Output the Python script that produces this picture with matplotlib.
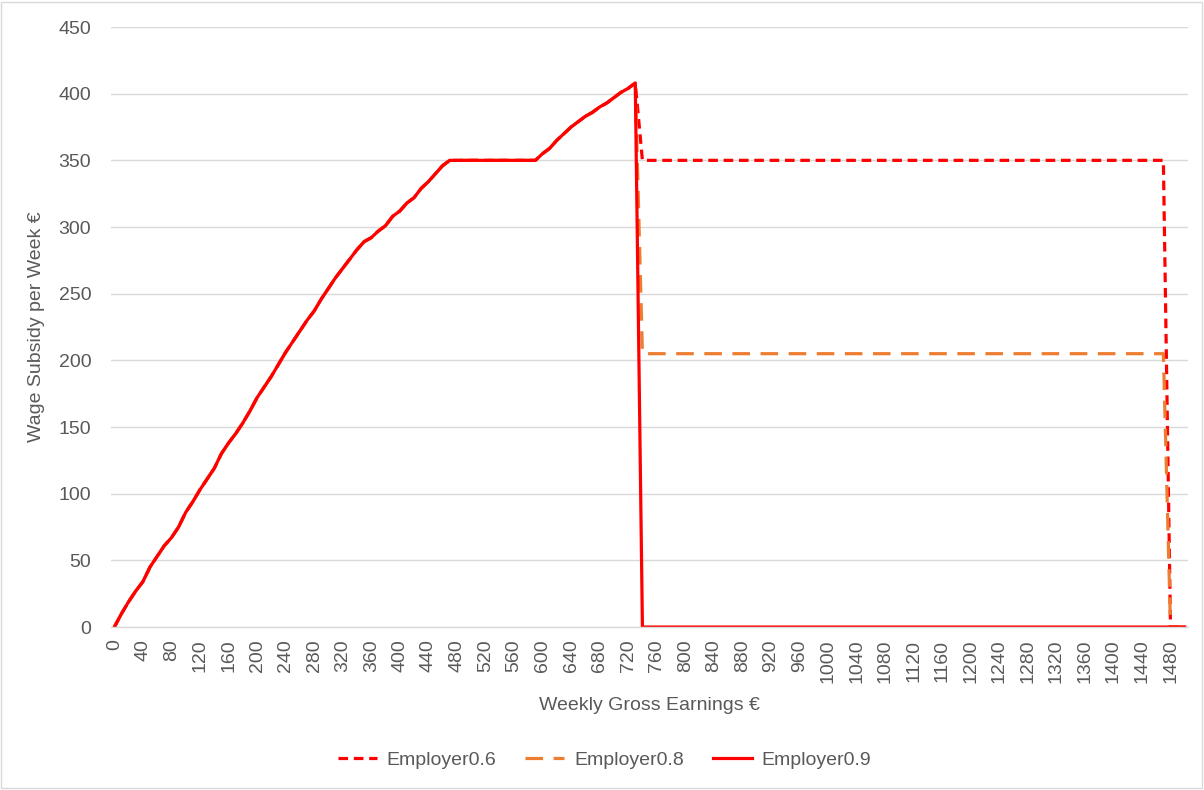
import matplotlib
matplotlib.use('Agg')
import matplotlib.pyplot as plt
import numpy as np
from matplotlib.patches import Rectangle

plt.rcParams['font.family'] = ['Liberation Sans', 'DejaVu Sans']

# weekly gross earnings categories (step 10)
earnings = np.arange(0, 1510, 10)

# shared part of the curve, 0 .. 730
rising = [0, 10, 19, 27, 34, 45, 53, 61, 67, 75,
          86, 94, 103, 111, 119, 130, 138, 145, 153, 162,
          172, 180, 188, 197, 206, 214, 222, 230, 237, 246,
          254, 262, 269, 276, 283, 289, 292, 297, 301, 308,
          312, 318, 322, 329, 334, 340, 346, 350, 350, 350,
          350, 350, 350, 350, 350, 350, 350, 350, 350, 350,
          355, 359, 365, 370, 375, 379, 383, 386, 390, 393,
          397, 401, 404, 408]

# plateau after 740 .. 1470 and values from 1480 on
plateau_06 = 350
plateau_08 = 205
plateau_09 = 0
n_plateau = 74
tail = [0, 0, 0]

emp06 = rising + [plateau_06] * n_plateau + tail
emp08 = rising + [plateau_08] * n_plateau + tail
emp09 = rising + [plateau_09] * n_plateau + tail

grey = '#595959'
fig = plt.figure(figsize=(12.04, 7.9), dpi=100)
ax = fig.add_axes([0.092, 0.2063, 0.895, 0.7595])

ax.plot(earnings, emp06, color='#FF0000', lw=2.3, dashes=(3, 1.8), label='Employer0.6')
ax.plot(earnings, emp08, color='#ED7D31', lw=2.3, dashes=(5.5, 3.3), label='Employer0.8')
ax.plot(earnings, emp09, color='#FF0000', lw=2.3, label='Employer0.9')

ax.set_xlim(-5, 1505)
ax.set_ylim(0, 450)
ax.set_yticks(np.arange(0, 451, 50))
ax.set_xticks(np.arange(0, 1481, 40))
ax.tick_params(axis='x', labelrotation=90, length=0, pad=9, labelsize=14, labelcolor=grey)
ax.tick_params(axis='y', length=0, pad=14, labelsize=14, labelcolor=grey)
for lab in ax.get_xticklabels():
    lab.set_va('top')

ax.grid(axis='y', color='#D9D9D9', lw=1)
ax.set_axisbelow(True)
for s in ['top', 'right', 'left']:
    ax.spines[s].set_visible(False)
ax.spines['bottom'].set_color('#D9D9D9')
ax.spines['bottom'].set_linewidth(1)

ax.set_xlabel('Weekly Gross Earnings €', fontsize=14, color=grey, labelpad=10)
ax.set_ylabel('Wage Subsidy per Week €', fontsize=14, color=grey, labelpad=10)

fig.legend(loc='center', bbox_to_anchor=(0.502, 0.038), ncol=3, frameon=False,
           fontsize=14, handlelength=2.0, handletextpad=0.5, columnspacing=1.5,
           labelcolor=grey)

fig.patches.append(Rectangle((0.001, 0.002), 0.997, 0.996, transform=fig.transFigure,
                             fill=False, edgecolor='#D9D9D9', lw=1))

fig.savefig('out.png', dpi=100)
